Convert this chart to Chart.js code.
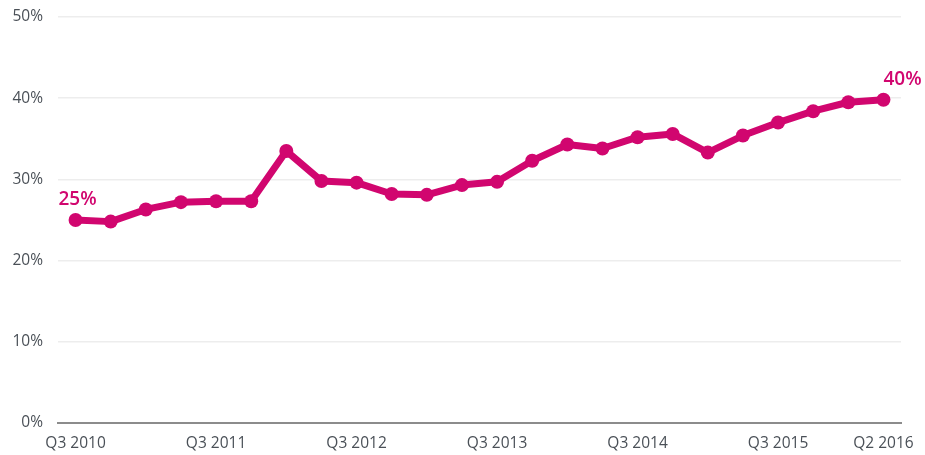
<!DOCTYPE html>
<html>
<head>
<meta charset="utf-8">
<script src="https://cdn.jsdelivr.net/npm/chart.js@4"></script>
<style>
html,body{margin:0;padding:0;background:#fff;}
#wrap{width:925px;height:455px;position:relative;}
</style>
</head>
<body>
<div id="wrap"><canvas id="c" width="925" height="455"></canvas></div>
<script>
const categories = ["Q3 2010","Q4 2010","Q1 2011","Q2 2011","Q3 2011","Q4 2011","Q1 2012","Q2 2012","Q3 2012","Q4 2012","Q1 2013","Q2 2013","Q3 2013","Q4 2013","Q1 2014","Q2 2014","Q3 2014","Q4 2014","Q1 2015","Q2 2015","Q3 2015","Q4 2015","Q1 2016","Q2 2016"];
const values = [25.0,24.8,26.3,27.2,27.3,27.3,33.5,29.8,29.6,28.2,28.1,29.3,29.7,32.3,34.3,33.8,35.2,35.6,33.3,35.4,37.0,38.4,39.5,39.8];
const shownTickLabels = ["Q3 2010","Q3 2011","Q3 2012","Q3 2013","Q3 2014","Q3 2015","Q2 2016"];
const yTicks = [0,10,20,30,40,50];
const annotations = [{index:0,text:"25%",align:"center"},{index:23,text:"40%",align:"left"}];

const MAG = '#d1066f';
const TXT = '#4a5057';
const FONT = "'Open Sans', sans-serif";

const annPlugin = {
  id:'ann',
  afterDatasetsDraw(chart){
    const ctx = chart.ctx;
    const xs = chart.scales.x, ys = chart.scales.y;
    ctx.save();
    ctx.fillStyle = MAG;
    ctx.font = "600 19px " + FONT;
    ctx.textBaseline = 'alphabetic';
    annotations.forEach(a=>{
      const x = xs.getPixelForValue(a.index);
      const y = ys.getPixelForValue(values[a.index]);
      ctx.textAlign = a.align;
      ctx.fillText(a.text, a.align==='center'? x+2 : x, y - 15);
    });
    ctx.restore();
  }
};

new Chart(document.getElementById('c'), {
  type:'line',
  data:{labels:categories, datasets:[{
    data:values, borderColor:MAG, backgroundColor:MAG, borderWidth:7,
    pointRadius:7, pointBackgroundColor:MAG, pointBorderWidth:0, tension:0,
    borderJoinStyle:'round', borderCapStyle:'round'
  }]},
  options:{
    responsive:false, animation:false,
    layout:{padding:{left:0,right:24,top:17,bottom:0}},
    plugins:{legend:{display:false},tooltip:{enabled:false}},
    scales:{
      x:{
        offset:true,
        grid:{display:false, drawTicks:false},
        border:{display:true,color:'#8c8c8c',width:2},
        ticks:{autoSkip:false,maxRotation:0,padding:11,color:TXT,font:{family:FONT,size:15.5},
          callback(v,i){ const l=categories[i]; return shownTickLabels.includes(l)?l:''; }},
        afterFit(s){ s.height = 32; s.paddingLeft = 0; s.paddingRight = 0; }
      },
      y:{
        min:0,max:50,
        afterBuildTicks(s){ s.ticks = yTicks.map(v=>({value:v})); },
        grid:{color:'#ededed',lineWidth:1.5,drawTicks:false},
        border:{display:false},
        ticks:{padding:15,color:TXT,font:{family:FONT,size:15.5},callback:v=>v+'%'},
        afterFit(s){ s.width = 58; s.paddingTop = 0; s.paddingBottom = 0; }
      }
    }
  },
  plugins:[annPlugin]
});
</script>
</body>
</html>
